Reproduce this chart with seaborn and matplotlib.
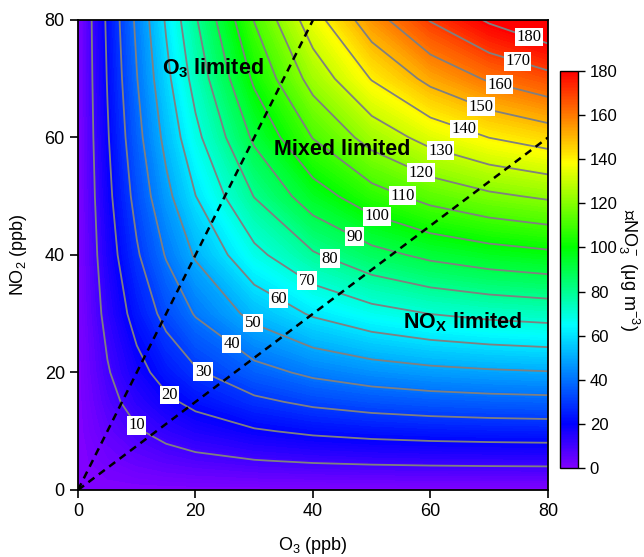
import numpy as np
import pandas as pd
import seaborn as sns
import matplotlib.pyplot as plt
from matplotlib.colors import LinearSegmentedColormap, Normalize
from matplotlib.cm import ScalarMappable

# grid of the model run (ppb)
o3_ppb = [0, 5, 10, 15, 20, 30, 40, 50, 60, 70, 80]
no2_ppb = [0, 5, 10, 15, 20, 30, 40, 50, 60, 70, 80]

# delta NO3- (ug m-3), one list per NO2 level, values follow o3_ppb
dno3_no2_0 = [0, 0, 0, 0, 0, 0, 0, 0, 0, 0, 0]
dno3_no2_5 = [0, 2.69, 4.82, 6.51, 7.85, 9.73, 10.88, 11.59, 12.03, 12.29, 12.45]
dno3_no2_10 = [0, 5.11, 9.25, 12.59, 15.27, 19.10, 21.51, 23.01, 23.94, 24.51, 24.86]
dno3_no2_15 = [0, 7.29, 13.31, 18.24, 22.25, 28.10, 31.86, 34.23, 35.71, 36.64, 37.20]
dno3_no2_20 = [0, 9.25, 17.02, 23.49, 28.81, 36.73, 41.91, 45.24, 47.35, 48.67, 49.49]
dno3_no2_30 = [0, 12.59, 23.48, 32.81, 40.70, 52.82, 61.08, 66.56, 70.13, 72.40, 73.84]
dno3_no2_40 = [0, 15.26, 28.82, 40.69, 51.00, 67.34, 78.92, 86.86, 92.16, 95.62, 97.85]
dno3_no2_50 = [0, 17.40, 33.18, 47.32, 59.83, 80.30, 95.35, 106.01, 113.33, 118.22, 121.43]
dno3_no2_60 = [0, 19.10, 36.73, 52.82, 67.35, 91.73, 110.32, 123.91, 133.52, 140.10, 144.50]
dno3_no2_70 = [0, 20.44, 39.60, 57.37, 73.65, 101.69, 123.80, 140.49, 152.62, 161.14, 166.95]
dno3_no2_80 = [0, 21.51, 41.91, 61.08, 78.93, 110.32, 135.83, 155.69, 170.54, 181.23, 188.71]

# contour levels and NO2/O3 ratios separating the regimes
contour_levels = [10, 20, 30, 40, 50, 60, 70, 80, 90, 100, 110, 120, 130, 140, 150, 160, 170, 180]
regime_ratios = [2.0, 0.75]
cbar_ticks = [0, 20, 40, 60, 80, 100, 120, 140, 160, 180]

# build the table: rows = NO2, columns = O3
df = pd.DataFrame([dno3_no2_0, dno3_no2_5, dno3_no2_10, dno3_no2_15, dno3_no2_20,
                   dno3_no2_30, dno3_no2_40, dno3_no2_50, dno3_no2_60, dno3_no2_70,
                   dno3_no2_80], index=no2_ppb, columns=o3_ppb)

# where the contour labels sit (O3, NO2)
label_spots = [(9.4, 10.6), (15.1, 15.5), (20.8, 19.4), (25, 23.3), (29.4, 27.9),
               (33.7, 31.7), (38.3, 34.6), (42.4, 38.1), (46.5, 41.9), (50.9, 46.5),
               (55, 49.5), (58.4, 54), (61.6, 57.4), (65.5, 60.8), (68.4, 64.9),
               (71.7, 68.8), (74.7, 72.5), (76.6, 76.6)]

# style
sns.set_style("ticks")
plt.rcParams['font.family'] = ['Liberation Sans', 'DejaVu Sans']
plt.rcParams['text.color'] = 'black'
plt.rcParams['axes.labelcolor'] = 'black'
plt.rcParams['xtick.color'] = 'black'
plt.rcParams['ytick.color'] = 'black'
plt.rcParams['mathtext.fontset'] = 'custom'
plt.rcParams['mathtext.rm'] = 'Liberation Sans'
plt.rcParams['mathtext.it'] = 'Liberation Sans:italic'
plt.rcParams['mathtext.bf'] = 'Liberation Sans:bold'
plt.rcParams['mathtext.fallback'] = 'stixsans'

# rainbow from purple to red like the original colour table
cmap = LinearSegmentedColormap.from_list(
    "rainbow_igor",
    [(0.0, (0.5, 0.0, 1.0)), (0.11, (0.0, 0.0, 1.0)), (0.36, (0.0, 1.0, 1.0)),
     (0.556, (0.0, 1.0, 0.0)), (0.77, (1.0, 1.0, 0.0)), (1.0, (1.0, 0.0, 0.0))])
cmap.set_over((1.0, 0.0, 0.0))

fig = plt.figure(figsize=(6.44, 5.57), dpi=100)
ax = fig.add_axes([0.1211, 0.1203, 0.7298, 0.8438])
cax = fig.add_axes([0.8696, 0.1598, 0.028, 0.7127])

X, Y = np.meshgrid(df.columns.values, df.index.values)
Z = df.values

# filled field
ax.contourf(X, Y, Z, levels=np.arange(0, 180.5, 1), cmap=cmap, extend='max')

# gray contour lines with white boxed labels
cs = ax.contour(X, Y, Z, levels=contour_levels, colors='#808080', linewidths=1.3)
texts = ax.clabel(cs, inline=False, fmt='%d', fontsize=12, manual=label_spots)
for t in texts:
    t.set_rotation(0)
    t.set_fontfamily('Liberation Serif')
    t.set_color('black')
    t.set_bbox(dict(facecolor='white', edgecolor='none', pad=1.0))

# regime boundaries
for r in regime_ratios:
    ax.axline((0, 0), slope=r, color='black', lw=1.8, ls=(0, (3, 2.2)))

ax.text(23.0, 71.8, r"O$_\mathbf{3}$ limited", fontsize=15.5, fontweight='bold', ha='center', va='center')
ax.text(44.9, 57.9, "Mixed limited", fontsize=15.5, fontweight='bold', ha='center', va='center')
ax.text(65.4, 28.6, r"NO$_\mathbf{X}$ limited", fontsize=15.5, fontweight='bold', ha='center', va='center')

ax.set_xlim(0, 80)
ax.set_ylim(0, 80)
ax.set_xticks([0, 20, 40, 60, 80])
ax.set_yticks([0, 20, 40, 60, 80])
ax.tick_params(direction='out', length=6, width=1.2, labelsize=13)
for s in ax.spines.values():
    s.set_color('black')
    s.set_linewidth(1.3)
ax.set_xlabel(r"O$_3$ (ppb)", fontsize=13, labelpad=11)
ax.set_ylabel(r"NO$_2$ (ppb)", fontsize=13, labelpad=11)

# colour bar
cb = fig.colorbar(ScalarMappable(norm=Normalize(0, 180), cmap=cmap), cax=cax, ticks=cbar_ticks)
cb.outline.set_linewidth(1.0)
cb.outline.set_edgecolor('black')
cb.ax.tick_params(direction='out', length=5, width=1, labelsize=12)
cb.set_label(r"△NO$_3^-$ (μg m$^{-3}$)", rotation=270, fontsize=13, labelpad=17)

fig.savefig("out.png", dpi=100)
